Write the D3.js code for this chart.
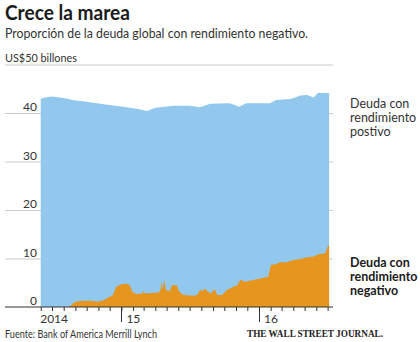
<!DOCTYPE html>
<html>
<head>
<meta charset="utf-8">
<script src="https://cdn.jsdelivr.net/npm/d3@7"></script>
<style>
  body { margin: 0; background: #fff; }
  svg { display: block; font-family: Lato, "Open Sans", sans-serif; }
</style>
</head>
<body>
<svg class="canvas" width="420" height="342"></svg>
<script>
// total debt (top of the blue area), US$ billions
const totalDates = [
  "2014-06-01", "2014-06-20", "2014-07-01", "2014-08-01", "2014-08-25", "2014-10-01",
  "2014-11-15", "2015-01-05", "2015-02-15", "2015-03-10", "2015-04-01", "2015-05-20",
  "2015-06-05", "2015-07-01", "2015-07-28", "2015-08-25", "2015-10-15", "2015-11-10",
  "2015-11-28", "2016-01-30", "2016-02-15", "2016-03-25", "2016-04-20", "2016-05-07",
  "2016-05-25", "2016-06-05", "2016-07-05"
];
const totalValues = [
  43.0, 43.3, 43.4, 43.1, 42.7, 42.3,
  41.8, 41.3, 40.8, 40.4, 41.1, 41.5,
  41.5, 41.5, 41.2, 41.9, 42.0, 41.3,
  42.0, 42.0, 42.7, 42.9, 43.6, 43.7,
  43.2, 44.1, 44.1
];

// debt with negative yield (orange area)
const negativeDates = [
  "2014-06-01", "2014-08-15", "2014-08-20", "2014-09-01", "2014-09-20", "2014-10-15",
  "2014-10-30", "2014-11-15", "2014-11-28", "2014-12-10", "2014-12-18", "2015-01-01",
  "2015-01-15", "2015-01-24", "2015-01-29", "2015-02-10", "2015-02-25", "2015-02-28",
  "2015-03-05", "2015-03-25", "2015-04-10", "2015-04-15", "2015-04-18", "2015-04-20",
  "2015-04-25", "2015-04-29", "2015-05-10", "2015-05-15", "2015-05-28", "2015-06-03",
  "2015-06-15", "2015-07-10", "2015-07-22", "2015-07-28", "2015-08-05", "2015-08-10",
  "2015-08-18", "2015-08-27", "2015-09-05", "2015-09-12", "2015-09-25", "2015-10-08",
  "2015-10-25", "2015-11-05", "2015-11-12", "2015-11-25", "2015-12-20", "2016-01-10",
  "2016-01-25", "2016-02-02", "2016-02-15", "2016-02-28", "2016-03-12", "2016-04-01",
  "2016-04-20", "2016-05-05", "2016-05-25", "2016-06-07", "2016-06-25", "2016-07-01",
  "2016-07-05"
];
const negativeValues = [
  0, 0, 0.3, 1.1, 1.3, 1.3,
  1.1, 1.4, 2.0, 2.5, 4.2, 4.7,
  4.8, 4.5, 3.2, 2.7, 2.8, 3.2,
  2.8, 2.9, 3.0, 3.5, 5.2, 3.6,
  5.6, 3.5, 3.3, 4.5, 4.5, 3.2,
  2.5, 2.3, 2.5, 3.5, 3.3, 3.8,
  3.2, 2.8, 3.7, 2.5, 2.5, 3.5,
  4.2, 4.5, 5.6, 5.2, 5.6, 6.0,
  6.2, 8.7, 8.8, 9.3, 9.2, 9.7,
  9.9, 10.2, 10.4, 10.9, 11.1, 12.4,
  12.8
];

const yTicks = [0, 10, 20, 30, 40];
const yearTicks = ["2015-01-01", "2016-01-01"];
const yearLabels = ["2014", "15", "16"];

const svg = d3.select(".canvas");
const parseDate = d3.timeParse("%Y-%m-%d");

const total = totalDates.map((d, i) => ({ date: parseDate(d), value: totalValues[i] }));
const negative = negativeDates.map((d, i) => ({ date: parseDate(d), value: negativeValues[i] }));

// scales
const xScale = d3
  .scaleTime()
  .domain([parseDate("2014-06-01"), parseDate("2016-07-01")])
  .range([40.7, 327.6]);
const yScale = d3.scaleLinear().domain([0, 40]).range([307, 113]);

// gridlines (50 line sits under the unit label)
svg
  .append("g")
  .selectAll("line")
  .data(yTicks.slice(1).concat([50]))
  .enter()
  .append("line")
  .attr("x1", 5)
  .attr("x2", 333)
  .attr("y1", (d) => yScale(d) + 0.5)
  .attr("y2", (d) => yScale(d) + 0.5)
  .attr("stroke", "#cccccc")
  .attr("stroke-width", 1);

// areas
const area = d3
  .area()
  .x((d) => xScale(d.date))
  .y0(yScale(0))
  .y1((d) => yScale(d.value));

svg.append("path").datum(total).attr("d", area).attr("fill", "#92c8ee");
svg.append("path").datum(negative).attr("d", area).attr("fill", "#e6951f");

// y labels
svg
  .append("g")
  .selectAll("text")
  .data(yTicks)
  .enter()
  .append("text")
  .attr("x", 37)
  .attr("y", (d) => yScale(d) - 2)
  .attr("text-anchor", "end")
  .style("font-size", "12px")
  .attr("fill", "#333")
  .text((d) => d);

svg
  .append("text")
  .attr("x", 5)
  .attr("y", 62)
  .style("font-size", "12px")
  .attr("fill", "#333")
  .attr("textLength", 72)
  .attr("lengthAdjust", "spacingAndGlyphs")
  .text("US$50 billones");

// x axis: monthly ticks
const xAxis = d3
  .axisBottom(xScale)
  .ticks(d3.timeMonth.every(1))
  .tickSize(4)
  .tickFormat("");
const gx = svg.append("g").attr("transform", "translate(0, 307)").call(xAxis);
gx.select(".domain").remove();
gx.selectAll(".tick line").attr("stroke", "#333");

svg
  .append("line")
  .attr("x1", 5)
  .attr("x2", 333)
  .attr("y1", 307)
  .attr("y2", 307)
  .attr("stroke", "#333")
  .attr("stroke-width", 1.2);

// year ticks
svg
  .append("g")
  .selectAll("line")
  .data(yearTicks)
  .enter()
  .append("line")
  .attr("x1", (d) => Math.round(xScale(parseDate(d))) + 0.5)
  .attr("x2", (d) => Math.round(xScale(parseDate(d))) + 0.5)
  .attr("y1", 307)
  .attr("y2", 322)
  .attr("stroke", "#333");

const yearPos = [xScale(parseDate("2014-06-01")) - 0.5]
  .concat(yearTicks.map((d) => xScale(parseDate(d)) + 5));
svg
  .append("g")
  .selectAll("text")
  .data(yearLabels)
  .enter()
  .append("text")
  .attr("x", (d, i) => yearPos[i])
  .attr("y", 323)
  .style("font-size", "12px")
  .attr("fill", "#333")
  .text((d) => d);

// title block
svg
  .append("text")
  .attr("x", 5)
  .attr("y", 20)
  .style("font-size", "20px")
  .style("font-weight", "bold")
  .attr("fill", "#1a1a1a")
  .attr("textLength", 125)
  .attr("lengthAdjust", "spacingAndGlyphs")
  .text("Crece la marea");

svg
  .append("text")
  .attr("x", 5)
  .attr("y", 38)
  .style("font-size", "12.5px")
  .attr("fill", "#333")
  .attr("textLength", 303)
  .attr("lengthAdjust", "spacingAndGlyphs")
  .text("Proporción de la deuda global con rendimiento negativo.");

// series labels
const posLines = ["Deuda con", "rendimiento", "postivo"];
const negLines = ["Deuda con", "rendimiento", "negativo"];
svg
  .append("g")
  .selectAll("text")
  .data(posLines)
  .enter()
  .append("text")
  .attr("x", 350)
  .attr("y", (d, i) => 107.5 + i * 14)
  .style("font-size", "12.5px")
  .attr("fill", "#333")
  .text((d) => d);
svg
  .append("g")
  .selectAll("text")
  .data(negLines)
  .enter()
  .append("text")
  .attr("x", 350)
  .attr("y", (d, i) => 266.5 + i * 14)
  .style("font-size", "12.5px")
  .style("font-weight", "bold")
  .attr("fill", "#1a1a1a")
  .text((d) => d);

// footer
svg
  .append("text")
  .attr("x", 5)
  .attr("y", 338)
  .style("font-size", "11px")
  .attr("fill", "#333")
  .attr("textLength", 152)
  .attr("lengthAdjust", "spacingAndGlyphs")
  .text("Fuente: Bank of America Merrill Lynch");

svg
  .append("text")
  .attr("x", 247)
  .attr("y", 336.5)
  .style("font-family", "'Liberation Serif', 'DejaVu Serif', serif")
  .style("font-size", "11px")
  .style("font-weight", "bold")
  .attr("fill", "#222")
  .attr("textLength", 136)
  .attr("lengthAdjust", "spacingAndGlyphs")
  .text("THE WALL STREET JOURNAL.");
</script>
</body>
</html>
